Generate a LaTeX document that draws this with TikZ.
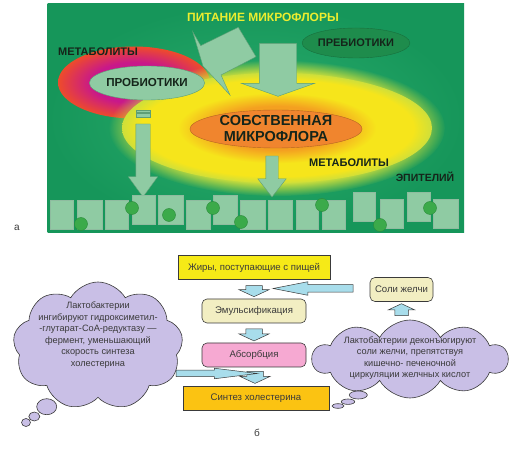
\documentclass[tikz,border=0pt]{standalone}
\usepackage{fontspec}
\setmainfont{Liberation Sans}
\usetikzlibrary{calc, fadings, positioning, shapes.arrows, shapes.geometric, shapes.symbols}

\definecolor{panelgreen}{HTML}{16965A}
\definecolor{panellight}{HTML}{2BAE6D}
\definecolor{cellgreen}{HTML}{8FCBA3}
\definecolor{celledge}{HTML}{5E9F76}
\definecolor{dotgreen}{HTML}{3BAA4A}
\definecolor{dotedge}{HTML}{2A8A3A}
\definecolor{pregreen}{HTML}{1E8C4C}
\definecolor{flora}{HTML}{F0852E}
\definecolor{ringin}{HTML}{C8188A}
\definecolor{ringout}{HTML}{EE4B2B}
\definecolor{glowcore}{HTML}{F4A020}
\definecolor{glowyellow}{HTML}{F6E51B}
\definecolor{glowedge}{HTML}{CFDF3A}
\definecolor{darkink}{HTML}{15251A}
\definecolor{titleyellow}{HTML}{EDED2F}
\definecolor{fatyellow}{HTML}{F6EA17}
\definecolor{boxbeige}{HTML}{F2EEC2}
\definecolor{boxpink}{HTML}{F6A9D2}
\definecolor{boxgold}{HTML}{FBC312}
\definecolor{flowblue}{HTML}{A8DDEB}
\definecolor{lilac}{HTML}{C9BFE6}
\definecolor{inkgray}{HTML}{3A3A3A}

\pgfdeclareradialshading{ringglow}{\pgfpoint{0bp}{0bp}}{color(0bp)=(ringin); color(14bp)=(ringin); color(25bp)=(ringout); color(50bp)=(ringout)}
\pgfdeclareradialshading{floraglow}{\pgfpoint{0bp}{0bp}}{color(0bp)=(glowcore); color(10bp)=(glowcore); color(16bp)=(glowyellow); color(22bp)=(glowyellow); color(25bp)=(glowedge); color(50bp)=(glowedge)}

\tikzstyle{tag}=[inner sep=0pt, text=darkink, font=\bfseries\fontsize{11}{13}\selectfont]
\tikzstyle{greenblock}=[fill=cellgreen, draw=celledge, line width=0.4pt]
\tikzstyle{greenarrow}=[greenblock, single arrow, inner sep=0pt, rotate=-90]
\tikzstyle{cell}=[fill=cellgreen, draw=celledge!70, line width=0.4pt]
\tikzstyle{dot}=[fill=dotgreen, draw=dotedge, line width=0.4pt]
\tikzstyle{flowbox}=[draw=inkgray, line width=0.6pt, fill=boxbeige, minimum height=24pt, inner sep=0pt, text=inkgray, font=\fontsize{9.6}{11}\selectfont]
\tikzstyle{flowarrow}=[single arrow, draw=inkgray, line width=0.5pt, fill=flowblue, inner sep=0pt, inner ysep=8pt, single arrow head extend=7pt, single arrow tip angle=130]
\tikzstyle{thought}=[cloud, cloud puffs=9, cloud puff arc=120, draw=inkgray, line width=0.6pt, fill=lilac, inner sep=0pt]
\tikzstyle{cloudtext}=[align=center, text=inkgray, font=\fontsize{9.2}{11.5}\selectfont]

\begin{document}
\begin{tikzpicture}[x=1pt, y=-1pt]
\useasboundingbox (0,0) rectangle (531,465);
\fill[white] (0,0) rectangle (531,465);

% panel a
\shade[inner color=panellight, outer color=panelgreen] (47.5,4) rectangle (464,233);
\shade[shading=ringglow] (134,82.5) ellipse [x radius=76, y radius=36];
\fill[glowedge, path fading=circle with fuzzy edge 20 percent] (277,128) ellipse [x radius=168, y radius=68];
\shade[shading=floraglow] (277,128) ellipse [x radius=155, y radius=55];
\node[tag, ellipse, greenblock, minimum width=112pt, minimum height=34pt, font=\bfseries\fontsize{11.6}{13}\selectfont] (pro) at (147,83) {ПРОБИОТИКИ};
\node[tag, ellipse, fill=pregreen, draw=pregreen!80!black, minimum width=102pt, minimum height=30pt] (pre) at (356,43) {ПРЕБИОТИКИ};
\filldraw[greenblock] (192.7,31.7) -- (200.7,45.7) -- (238.3,27.3) -- (256,56.7) -- (221,75) -- (230,95) -- (203,66) -- cycle;
\node[greenarrow, minimum height=53pt, inner ysep=18.5pt, single arrow head extend=18pt, single arrow tip angle=141] (feed) at (278,66.5) {};
\node[tag, ellipse, fill=flora, draw=flora!75!black, minimum width=172pt, minimum height=38pt, align=center, font=\bfseries\fontsize{14.5}{16}\selectfont] (own) at (276,129) {СОБСТВЕННАЯ\\МИКРОФЛОРА};
\filldraw[greenblock] (136,110) rectangle (150,112.3);
\filldraw[greenblock] (136,113.5) rectangle (150,117.5);
\node[greenarrow, minimum height=73pt, inner ysep=7pt, single arrow head extend=7.5pt, single arrow tip angle=72] (prodown) at (143,155.5) {};
\node[greenarrow, minimum height=41pt, inner ysep=6pt, single arrow head extend=8pt, single arrow tip angle=76] (owndown) at (272,172.5) {};

\foreach \l/\r/\t in {50/73/200, 77/102/200, 105/128/200, 132/155/195, 158/183/195,
  186/210/200, 213/237/195, 240/265/200, 268/292/200, 296/318/200, 322/345/200,
  353/375/192, 380/403/199, 407/430/192, 433/458/199}
  \filldraw[cell] (\l,\t) rectangle (\r,{\t+29});
\foreach \x/\y in {81/224, 132/208, 169/215, 213/208, 241/222, 322/205, 380/225, 430/208}
  \filldraw[dot] (\x,\y) circle [radius=6.5];

\node[tag, text=titleyellow, font=\bfseries\fontsize{12}{14}\selectfont] (feedtitle) at (263,17) {ПИТАНИЕ МИКРОФЛОРЫ};
\node[tag] (metaup) at (98,52) {МЕТАБОЛИТЫ};
\node[tag] (metalow) at (349,163) {МЕТАБОЛИТЫ};
\node[tag, font=\bfseries\fontsize{10.5}{12}\selectfont] (epith) at (425,177) {ЭПИТЕЛИЙ};
\node[text=inkgray, font=\fontsize{10}{12}\selectfont] (panela) at (17,228) {а};

% panel b
\node[flowbox, fill=fatyellow, minimum width=152pt] (fats) at (254,267.5) {Жиры, поступающие с пищей};
\node[flowbox, rounded corners=5pt, minimum width=104pt] (emul) at (254,311) {Эмульсификация};
\node[flowbox, rounded corners=5pt, fill=boxpink, minimum width=104pt] (absorb) at (254,355) {Абсорбция};
\node[flowbox, fill=boxgold, minimum width=146pt] (synth) at (256,398) {Синтез холестерина};
\node[flowbox, rounded corners=5pt, minimum width=63pt] (salts) at (401.5,289.5) {Соли желчи};

\node[flowarrow, rotate=-90, minimum height=11pt] (fa1) at ($(fats.south)!.5!(emul.north)$) {};
\node[flowarrow, rotate=-90, minimum height=12pt] (fa2) at ($(emul.south)!.5!(absorb.north)$) {};
\node[flowarrow, rotate=-90, minimum height=12pt] (fa3) at ($(absorb.south)!.5!(synth.north)+(0,-1)$) {};
\node[flowarrow, rotate=180, minimum height=80pt, inner ysep=3.5pt, single arrow head extend=3pt, single arrow tip angle=22] (back) at ($(salts.west)+(-47,-1)$) {};

\node[thought, minimum width=170pt, minimum height=128pt,
  label={[cloudtext, yshift=11pt]center:Лактобактерии\\ингибируют гидроксиметил-\\-глутарат-СоА-редуктазу —\\фермент, уменьшающий\\скорость синтеза\\холестерина}] (inhibit) at (98,346) {};
\node[thought, cloud puffs=10, minimum width=195pt, minimum height=78pt,
  label={[cloudtext, yshift=1pt]center:Лактобактерии деконъюгируют\\соли желчи, препятствуя\\кишечно- печеночной\\циркуляции желчных кислот}] (deconj) at (410,359) {};
\foreach \x/\y/\a/\b in {46.7/406.7/10/8, 34.3/416.5/5.5/4.5, 26/422.5/4.5/4,
  358.3/395/9/4, 348/401.7/6.7/2.7, 338/406/6/2.3}
  \filldraw[draw=inkgray, line width=0.6pt, fill=lilac] (\x,\y) ellipse [x radius=\a, y radius=\b];

\node[flowarrow, minimum height=81pt, inner ysep=3pt, single arrow head extend=2pt, single arrow tip angle=14] (inhibarrow) at (203.5,373.5) {};
\node[flowarrow, rotate=90, minimum height=12pt, inner ysep=6.5pt, single arrow head extend=6.5pt] (up) at ($(salts.south)+(0,9.5)$) {};

\node[text=inkgray, font=\fontsize{10}{12}\selectfont] (panelb) at (257,433) {б};
\end{tikzpicture}
\end{document}
